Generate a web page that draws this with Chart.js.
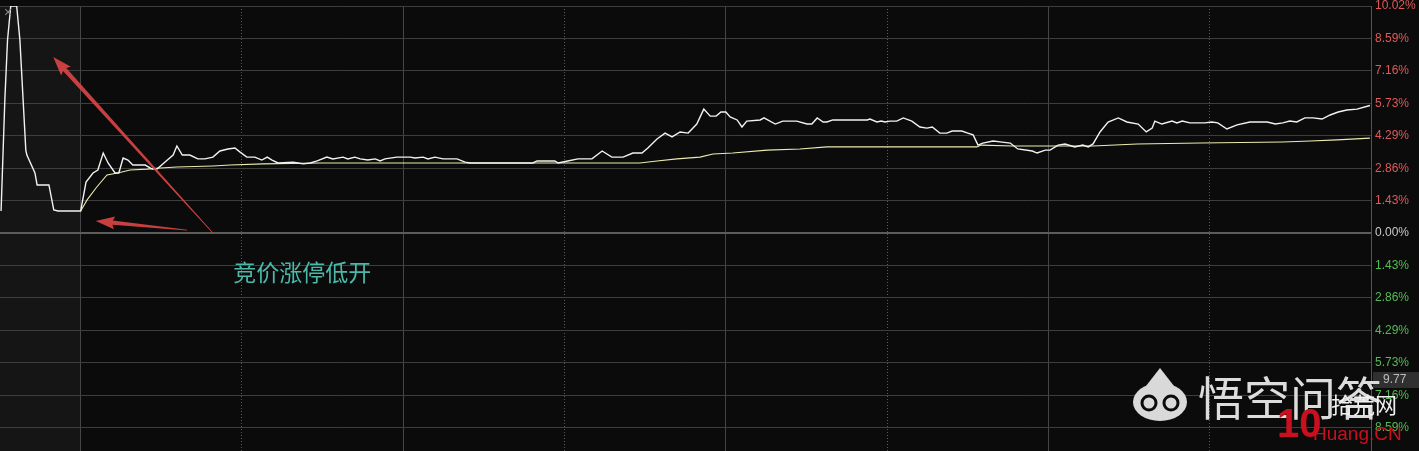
<!DOCTYPE html>
<html>
<head>
<meta charset="utf-8">
<script src="https://cdn.jsdelivr.net/npm/chart.js@4"></script>
<style>
html, body { margin: 0; padding: 0; background: #0b0b0b; overflow: hidden; }
#wrap { width: 1419px; height: 461px; position: relative; }
</style>
</head>
<body>
<div id="wrap"><canvas id="fenshi"></canvas></div>
<script>
// time = minutes after 9:15 (auction 0..15, session 15..255), value = change in %
const pricePoints = [
  [0.2, 0.97], [0.9, 5.87], [1.4, 8.52], [2.0, 10.02], [3.1, 10.02], [3.7, 8.52], [4.3, 5.87],
  [4.8, 3.66], [5.0, 3.44], [6.5, 2.65], [6.9, 2.12], [9.1, 2.12], [10.0, 1.02], [10.8, 0.97], [15.0, 0.97],
  [16.0, 2.25], [17.3, 2.65], [18.2, 2.78], [19.2, 3.53], [20.1, 3.09], [21.4, 2.65], [22.1, 2.65],
  [22.9, 3.31], [23.8, 3.22], [24.7, 3.00], [27.0, 3.00], [28.3, 2.82], [29.2, 2.82], [30.7, 3.13],
  [32.2, 3.44], [32.9, 3.84], [33.9, 3.44], [35.3, 3.44], [36.8, 3.27], [38.1, 3.27], [39.6, 3.35],
  [40.9, 3.62], [42.4, 3.71], [43.7, 3.75], [44.6, 3.58], [45.9, 3.35], [47.4, 3.35], [48.7, 3.22],
  [49.7, 3.35], [50.6, 3.22], [51.7, 3.09], [54.5, 3.13], [55.4, 3.09], [56.4, 3.05], [57.7, 3.09],
  [59.0, 3.18], [60.8, 3.35], [61.9, 3.27], [63.8, 3.35], [64.7, 3.27], [66.0, 3.35], [67.0, 3.27],
  [68.4, 3.22], [69.8, 3.27], [70.7, 3.18], [71.6, 3.27], [73.8, 3.35], [76.3, 3.35], [77.2, 3.31],
  [78.7, 3.35], [79.6, 3.27], [80.9, 3.35], [82.4, 3.27], [85.0, 3.27], [86.5, 3.13], [87.4, 3.09],
  [99.1, 3.09], [99.9, 3.18], [103.2, 3.18], [103.8, 3.09], [105.6, 3.18], [107.5, 3.27], [110.1, 3.27],
  [112.0, 3.62], [113.8, 3.35], [115.9, 3.35], [117.7, 3.53], [119.4, 3.53], [120.5, 3.75], [122.2, 4.15],
  [123.7, 4.41], [125.0, 4.24], [126.5, 4.46], [128.0, 4.41], [129.6, 4.81], [130.9, 5.47], [132.1, 5.16],
  [133.2, 5.16], [134.1, 5.34], [135.0, 5.34], [135.8, 5.12], [137.1, 4.99], [138.0, 4.68], [138.9, 4.94],
  [141.4, 4.99], [142.1, 5.08], [144.2, 4.81], [145.6, 4.94], [148.2, 4.94], [150.1, 4.81], [151.0, 4.81],
  [152.0, 5.08], [153.1, 4.90], [153.8, 4.90], [154.9, 4.99], [161.3, 4.99], [161.8, 5.03], [163.1, 4.90],
  [163.9, 4.94], [164.6, 4.90], [165.5, 4.94], [166.8, 4.94], [168.0, 5.08], [169.6, 4.94], [171.1, 4.68],
  [172.4, 4.63], [173.4, 4.68], [174.8, 4.41], [176.1, 4.41], [177.1, 4.50], [178.9, 4.50], [180.0, 4.41],
  [181.0, 4.33], [181.9, 3.88], [182.8, 3.97], [184.7, 4.06], [186.0, 4.02], [187.9, 3.97], [189.3, 3.71],
  [192.0, 3.62], [192.9, 3.53], [194.4, 3.66], [195.3, 3.66], [196.8, 3.88], [198.1, 3.93], [199.9, 3.80],
  [201.4, 3.88], [202.4, 3.80], [203.3, 3.93], [204.6, 4.46], [206.1, 4.90], [208.0, 5.08], [209.6, 4.90],
  [211.7, 4.81], [213.2, 4.46], [214.3, 4.63], [214.8, 4.94], [216.1, 4.81], [218.0, 4.94], [218.9, 4.86],
  [219.9, 4.94], [221.3, 4.86], [224.1, 4.86], [225.4, 4.90], [226.5, 4.86], [228.2, 4.59], [230.1, 4.77],
  [232.5, 4.90], [235.7, 4.90], [237.2, 4.81], [238.6, 4.86], [239.9, 4.94], [241.2, 4.90], [242.7, 5.08],
  [244.2, 5.08], [245.9, 5.03], [247.4, 5.21], [248.9, 5.34], [250.5, 5.43], [252.4, 5.47], [254.8, 5.63]
];
const avgPoints = [
  [15.0, 0.97], [16.2, 1.46], [18.0, 2.03], [19.9, 2.56], [21.9, 2.65], [24.2, 2.78], [27.3, 2.82],
  [29.8, 2.87], [32.9, 2.91], [39.6, 2.96], [42.8, 3.00], [48.9, 3.05], [59.5, 3.09], [119.0, 3.09],
  [122.2, 3.18], [125.9, 3.27], [130.2, 3.35], [132.6, 3.49], [136.3, 3.53], [142.7, 3.66], [148.8, 3.71],
  [153.8, 3.80], [181.7, 3.80], [182.5, 3.88], [188.4, 3.84], [203.3, 3.84], [211.5, 3.93], [223.2, 3.97],
  [238.6, 4.02], [243.7, 4.06], [248.7, 4.11], [254.8, 4.19]
];
const yTicks = [10.02, 8.59, 7.16, 5.73, 4.29, 2.86, 1.43, 0, -1.43, -2.86, -4.29, -5.73, -7.16, -8.59, -10.02];
const timeLines = [15, 45, 75, 105, 135, 165, 195, 225, 255];

const noteText = '竞价涨停低开';
const notePos = [56.2, -1.72];
const arrows = [
  [[39.6, 0.0], [9.9, 7.77]],
  [[34.8, 0.13], [17.8, 0.53]]
];
const crossLabel = '9.77';
const crossLevel = -6.49;

function drawArrow(ctx, x1, y1, x2, y2) {
  const ang = Math.atan2(y2 - y1, x2 - x1);
  const len = Math.hypot(x2 - x1, y2 - y1);
  const head = 17, hw = 6.5;
  ctx.save();
  ctx.translate(x1, y1);
  ctx.rotate(ang);
  ctx.fillStyle = 'rgba(218,68,68,0.92)';
  ctx.beginPath();
  ctx.moveTo(0, -0.4);
  ctx.lineTo(len - head, -2.2);
  ctx.lineTo(len - head - 2, -hw);
  ctx.lineTo(len, 0);
  ctx.lineTo(len - head - 2, hw);
  ctx.lineTo(len - head, 2.2);
  ctx.lineTo(0, 0.4);
  ctx.closePath();
  ctx.fill();
  ctx.restore();
}

const bgPlugin = {
  id: 'bg',
  beforeDraw(chart) {
    const { ctx, chartArea: a, scales: { x } } = chart;
    ctx.save();
    ctx.fillStyle = '#0b0b0b';
    ctx.fillRect(0, 0, chart.width, chart.height);
    ctx.fillStyle = '#151515';
    const x15 = x.getPixelForValue(15);
    ctx.fillRect(a.left, a.top, x15 - a.left, a.bottom - a.top);
    ctx.restore();
  }
};

const notePlugin = {
  id: 'notes',
  afterDatasetsDraw(chart) {
    const { ctx, scales: { x, y } } = chart;
    arrows.forEach(([from, to]) => {
      drawArrow(ctx, x.getPixelForValue(from[0]), y.getPixelForValue(from[1]),
        x.getPixelForValue(to[0]), y.getPixelForValue(to[1]));
    });
    ctx.save();
    ctx.font = '23px "Noto Sans CJK SC"';
    ctx.fillStyle = '#4bb8aa';
    ctx.textAlign = 'center';
    ctx.textBaseline = 'middle';
    ctx.fillText(noteText, x.getPixelForValue(notePos[0]), y.getPixelForValue(notePos[1]));
    ctx.font = '14px "Liberation Sans"';
    ctx.fillStyle = '#8a8a8a';
    ctx.fillText('×', chart.chartArea.left + 8, chart.chartArea.top + 7);
    ctx.restore();
  },
  afterDraw(chart) {
    const { ctx, chartArea: a, scales: { y } } = chart;
    ctx.save();
    // crosshair value box
    const cy = y.getPixelForValue(crossLevel);
    ctx.fillStyle = '#303030';
    ctx.fillRect(a.right + 2, cy - 8, chart.width - a.right - 2, 16);
    ctx.fillStyle = '#bdbdbd';
    ctx.font = '12px "Liberation Sans"';
    ctx.textBaseline = 'middle';
    ctx.fillText(crossLabel, a.right + 12, cy);

    // watermarks
    ctx.fillStyle = '#d9d9d9';
    ctx.beginPath();
    ctx.ellipse(1160, 402, 27, 19, 0, 0, Math.PI * 2);
    ctx.fill();
    ctx.beginPath();
    ctx.moveTo(1146, 386); ctx.lineTo(1160, 368); ctx.lineTo(1174, 386);
    ctx.fill();
    ctx.strokeStyle = '#0b0b0b';
    ctx.lineWidth = 3;
    ctx.beginPath(); ctx.arc(1149, 403, 7, 0, Math.PI * 2); ctx.stroke();
    ctx.beginPath(); ctx.arc(1171, 403, 7, 0, Math.PI * 2); ctx.stroke();
    ctx.font = '46px "Noto Sans CJK SC"';
    ctx.fillStyle = '#dcdcdc';
    ctx.textBaseline = 'middle';
    ctx.fillText('悟空问答', 1198, 398);

    ctx.font = 'bold 40px "Liberation Sans"';
    ctx.fillStyle = '#c8101e';
    ctx.textBaseline = 'alphabetic';
    ctx.fillText('10', 1277, 437);
    ctx.font = '22px "Noto Sans CJK SC"';
    ctx.fillStyle = '#f0f0f0';
    ctx.textBaseline = 'middle';
    ctx.fillText('拾荒网', 1331, 405);
    ctx.font = '19px "Liberation Sans"';
    ctx.fillStyle = '#c8101e';
    ctx.textBaseline = 'alphabetic';
    ctx.fillText('Huang.CN', 1313, 440);
    ctx.restore();
  }
};

const toXY = pts => pts.map(([t, v]) => ({ x: t, y: v }));

new Chart(document.getElementById('fenshi'), {
  type: 'line',
  data: {
    datasets: [
      {
        label: '均价',
        data: toXY(avgPoints),
        borderColor: '#ecebb0',
        borderWidth: 1.1,
        pointRadius: 0,
        tension: 0,
        order: 2
      },
      {
        label: '价格',
        data: toXY(pricePoints),
        borderColor: '#f2f2f2',
        borderWidth: 1.4,
        pointRadius: 0,
        tension: 0,
        order: 1
      }
    ]
  },
  options: {
    responsive: true,
    maintainAspectRatio: false,
    animation: false,
    layout: { padding: 0 },
    plugins: {
      legend: { display: false },
      tooltip: { enabled: false }
    },
    scales: {
      x: {
        type: 'linear',
        min: 0,
        max: 255,
        afterBuildTicks: s => { s.ticks = timeLines.map(v => ({ value: v })); },
        ticks: { display: false },
        grid: { color: c => (c.index % 2 === 1 ? '#5a5a5a' : '#454545'), lineWidth: 1, drawTicks: false },
        border: { display: false, dash: c => (c.index % 2 === 1 ? [1, 2] : []) }
      },
      y: {
        position: 'right',
        min: -10.02,
        max: 10.02,
        afterBuildTicks: s => { s.ticks = yTicks.map(v => ({ value: v })); },
        afterFit: s => { s.width = 48; s.paddingTop = 6; s.paddingBottom = 1; },
        ticks: {
          autoSkip: false,
          padding: 4,
          font: { family: 'Liberation Sans', size: 12 },
          color: c => c.tick.value > 0 ? '#dd5a5a' : (c.tick.value < 0 ? '#55bb55' : '#c8c8c8'),
          callback: v => Math.abs(v).toFixed(2) + '%'
        },
        grid: {
          color: c => c.tick.value === 0 ? '#5c5c5c' : '#3e3e3e',
          lineWidth: c => c.tick.value === 0 ? 2 : 1,
          drawTicks: false
        },
        border: { display: true, color: '#555555' }
      }
    }
  },
  plugins: [bgPlugin, notePlugin]
});
</script>
</body>
</html>
